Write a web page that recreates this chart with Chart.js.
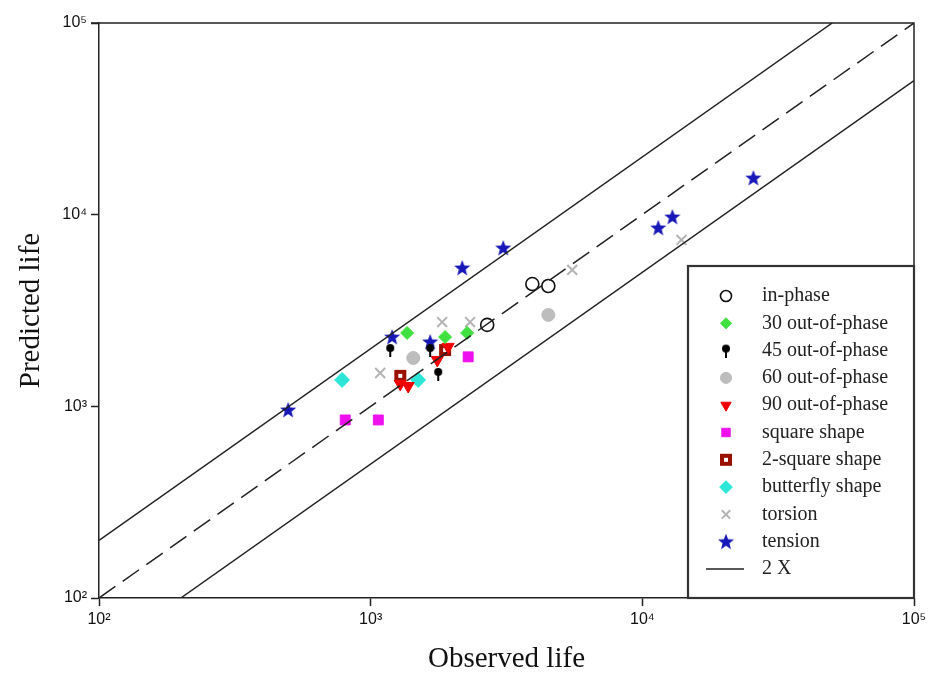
<!DOCTYPE html>
<html>
<head>
<meta charset="utf-8">
<script src="https://cdn.jsdelivr.net/npm/chart.js@4.4.1/dist/chart.umd.min.js"></script>
<style>
  html, body { margin: 0; padding: 0; background: #fff; }
</style>
</head>
<body>
<canvas id="lifeChart" width="948" height="681"></canvas>
<script>
// 관측 수명 vs 예측 수명 (log-log)
const tickValues = [100, 1000, 10000, 100000];
const tickLabels = ['10²', '10³', '10⁴', '10⁵'];

const inPhaseObs = [2685, 3936, 4508];
const inPhasePred = [2660, 4345, 4245];
const oop30Obs = [1362, 1879, 2265];
const oop30Pred = [2415, 2300, 2415];
const oop45Obs = [1180, 1656, 1773];
const oop45Pred = [1967, 1967, 1476];
const oop60Obs = [1435, 4508];
const oop60Pred = [1787, 3000];
const oop90Obs = [1285, 1374, 1759, 1928];
const oop90Pred = [1310, 1277, 1746, 2042];
const squareObs = [806, 1067, 2285];
const squarePred = [849, 849, 1812];
const twoSquareObs = [1285, 1879];
const twoSquarePred = [1442, 1967];
const butterflyObs = [785, 1496];
const butterflyPred = [1374, 1374];
const torsionObs = [1084, 1832, 2323, 5521, 13930];
const torsionPred = [1493, 2752, 2752, 5152, 7380];
const tensionObs = [497, 1200, 1656, 2173, 3076, 11450, 12900, 25630];
const tensionPred = [957, 2300, 2168, 5270, 6700, 8530, 9730, 15530];

// 2배 범위선 (y = 2x, y = x, y = x/2)
const upperObs = [100, 50000];
const upperPred = [200, 100000];
const equalObs = [100, 100000];
const equalPred = [100, 100000];
const lowerObs = [200, 100000];
const lowerPred = [100, 50000];

const pts = (xs, ys) => xs.map((x, i) => ({ x: x, y: ys[i] }));

function makeIcon(size, draw) {
    const c = document.createElement('canvas');
    c.width = size; c.height = size;
    draw(c.getContext('2d'), size);
    return c;
}

const pinIcon = makeIcon(14, (g) => {
    g.fillStyle = '#000';
    g.beginPath(); g.arc(7, 5, 4, 0, Math.PI * 2); g.fill();
    g.fillRect(6, 8, 2, 6);
});

const twoSquareIcon = makeIcon(14, (g) => {
    g.fillStyle = '#9a1000';
    g.fillRect(1, 1, 12, 12);
    g.fillStyle = '#fff';
    g.fillRect(5, 5, 4, 4);
});

const starIcon = makeIcon(18, (g) => {
    g.fillStyle = '#1818b8';
    g.beginPath();
    for (let i = 0; i < 10; i++) {
        const r = i % 2 === 0 ? 8.5 : 3.6;
        const a = -Math.PI / 2 + i * Math.PI / 5;
        const px = 9 + r * Math.cos(a), py = 9.5 + r * Math.sin(a);
        if (i === 0) g.moveTo(px, py); else g.lineTo(px, py);
    }
    g.closePath(); g.fill();
});

const markerSets = [
    { label: 'in-phase', data: pts(inPhaseObs, inPhasePred), pointStyle: 'circle', pointRadius: 6.5, backgroundColor: '#fff', borderColor: '#111', pointBorderWidth: 1.6 },
    { label: '30 out-of-phase', data: pts(oop30Obs, oop30Pred), pointStyle: 'rectRot', pointRadius: 6.5, backgroundColor: '#3fe03f', borderColor: '#3fe03f', pointBorderWidth: 1 },
    { label: '45 out-of-phase', data: pts(oop45Obs, oop45Pred), pointStyle: pinIcon, pointRadius: 7, backgroundColor: '#000', borderColor: '#000', pointBorderWidth: 1 },
    { label: '60 out-of-phase', data: pts(oop60Obs, oop60Pred), pointStyle: 'circle', pointRadius: 6.5, backgroundColor: '#bdbdbd', borderColor: '#bdbdbd', pointBorderWidth: 1 },
    { label: '90 out-of-phase', data: pts(oop90Obs, oop90Pred), pointStyle: 'triangle', rotation: 180, pointRadius: 7, backgroundColor: '#f00000', borderColor: '#f00000', pointBorderWidth: 1 },
    { label: 'square shape', data: pts(squareObs, squarePred), pointStyle: 'rect', pointRadius: 7, backgroundColor: '#ee11ee', borderColor: '#ee11ee', pointBorderWidth: 1 },
    { label: '2-square shape', data: pts(twoSquareObs, twoSquarePred), pointStyle: twoSquareIcon, pointRadius: 7, backgroundColor: '#9a1000', borderColor: '#9a1000', pointBorderWidth: 1 },
    { label: 'butterfly shape', data: pts(butterflyObs, butterflyPred), pointStyle: 'rectRot', pointRadius: 7.5, backgroundColor: '#2ee6d8', borderColor: '#2ee6d8', pointBorderWidth: 1 },
    { label: 'torsion', data: pts(torsionObs, torsionPred), pointStyle: 'crossRot', pointRadius: 7, backgroundColor: '#b4b4b4', borderColor: '#b4b4b4', pointBorderWidth: 2 },
    { label: 'tension', data: pts(tensionObs, tensionPred), pointStyle: starIcon, pointRadius: 8, backgroundColor: '#1818b8', borderColor: '#1818b8', pointBorderWidth: 1 }
];

const lineSets = [
    { label: '2 X', data: pts(upperObs, upperPred), borderDash: [] },
    { label: '1 X', data: pts(equalObs, equalPred), borderDash: [20, 9] },
    { label: '0.5 X', data: pts(lowerObs, lowerPred), borderDash: [] }
].map(d => Object.assign(d, { showLine: true, pointRadius: 0, borderColor: '#222', borderWidth: 1.5, fill: false }));

// 범례 (플롯 안쪽 오른쪽 아래 박스)
const boxLegendPlugin = {
    id: 'boxLegend',
    afterDraw(chart) {
        const { ctx, chartArea } = chart;
        const w = 226, h = 332;
        const left = chartArea.right - w, top = chartArea.bottom - h;
        ctx.save();
        ctx.fillStyle = '#fff';
        ctx.fillRect(left, top, w, h);
        ctx.strokeStyle = '#333';
        ctx.lineWidth = 2.2;
        ctx.strokeRect(left, top, w, h);

        const markerX = left + 38, textX = left + 74;
        const rowH = 27.3;
        let y = top + 30;
        ctx.font = '20px "Liberation Serif", serif';
        ctx.textBaseline = 'middle';
        ctx.textAlign = 'left';
        markerSets.forEach(ds => {
            ctx.fillStyle = ds.backgroundColor;
            ctx.strokeStyle = ds.borderColor;
            ctx.lineWidth = ds.pointBorderWidth;
            Chart.helpers.drawPoint(ctx, {
                pointStyle: ds.pointStyle, radius: ds.pointRadius * 0.85,
                rotation: ds.rotation || 0, borderWidth: ds.pointBorderWidth
            }, markerX, y);
            ctx.fillStyle = '#222';
            ctx.fillText(ds.label, textX, y);
            y += rowH;
        });
        ctx.strokeStyle = '#222';
        ctx.lineWidth = 1.5;
        ctx.beginPath();
        ctx.moveTo(markerX - 20, y); ctx.lineTo(markerX + 18, y);
        ctx.stroke();
        ctx.fillStyle = '#222';
        ctx.fillText('2 X', textX, y);
        ctx.restore();
    }
};

// 위, 오른쪽 테두리
const framePlugin = {
    id: 'frame',
    afterDatasetsDraw(chart) {
        const { ctx, chartArea: a } = chart;
        ctx.save();
        ctx.strokeStyle = '#222';
        ctx.lineWidth = 1.5;
        ctx.beginPath();
        ctx.moveTo(a.left - 8, a.top); ctx.lineTo(a.right, a.top); ctx.lineTo(a.right, a.bottom);
        ctx.stroke();
        ctx.restore();
    }
};

const axisCommon = (titleText, titlePad) => ({
    type: 'logarithmic',
    min: 100,
    max: 100000,
    afterBuildTicks: (s) => { s.ticks = tickValues.map(v => ({ value: v, major: true })); },
    ticks: {
        callback: (v) => tickLabels[tickValues.indexOf(v)],
        font: { family: '"Liberation Sans", Arial, sans-serif', size: 16 },
        color: '#111',
        maxRotation: 0,
        autoSkip: false,
        padding: 4
    },
    grid: { drawOnChartArea: false, drawTicks: true, tickLength: 8, color: '#222', tickWidth: 1.5 },
    border: { color: '#222', width: 1.5 },
    title: {
        display: true,
        text: titleText,
        color: '#111',
        font: { family: '"Liberation Serif", "Times New Roman", serif', size: 29 },
        padding: titlePad
    }
});

const xScale = axisCommon('Observed life', { top: 0, bottom: 4 });
xScale.position = 'bottom';
xScale.afterFit = (s) => { s.height = 83; };
const yScale = axisCommon('Predicted life', { top: 14, bottom: 0 });
yScale.position = 'left';
yScale.afterFit = (s) => { s.width = 99; };

new Chart(document.getElementById('lifeChart').getContext('2d'), {
    type: 'scatter',
    data: { datasets: lineSets.concat(markerSets) },
    options: {
        responsive: false,
        animation: false,
        layout: { padding: { top: 23, right: 34, left: 0, bottom: 0 } },
        plugins: { legend: { display: false }, tooltip: { enabled: false } },
        scales: { x: xScale, y: yScale }
    },
    plugins: [framePlugin, boxLegendPlugin]
});
</script>
</body>
</html>
